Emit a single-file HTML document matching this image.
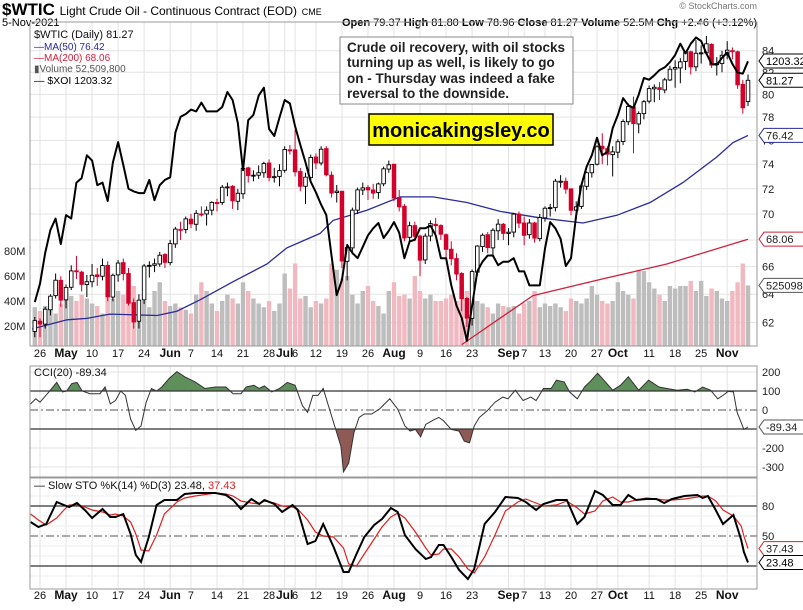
<!DOCTYPE html>
<html><head><meta charset="utf-8"><style>
html,body{margin:0;padding:0;background:#fff;}
svg{display:block;font-family:"Liberation Sans",sans-serif;}
</style></head><body>
<svg id="chart" width="803" height="610" viewBox="0 0 803 610">
<rect x="0" y="0" width="803" height="610" fill="#fff"/>
<g>
<text x="2" y="15" font-size="17" font-weight="bold">$WTIC <tspan font-size="12" font-weight="normal">Light Crude Oil - Continuous Contract (EOD)</tspan> <tspan font-size="9" font-weight="normal">CME</tspan></text>
<text x="2" y="26" font-size="11">5-Nov-2021</text>
<text x="757" y="9" font-size="9" fill="#777" text-anchor="end">© StockCharts.com</text>
<text x="757" y="26" font-size="11" text-anchor="end"><tspan font-weight="bold">Open</tspan> 79.37  <tspan font-weight="bold">High</tspan> 81.80  <tspan font-weight="bold">Low</tspan> 78.96  <tspan font-weight="bold">Close</tspan> 81.27  <tspan font-weight="bold">Volume</tspan> 52.5M  <tspan font-weight="bold">Chg</tspan> +2.46 (+3.12%)</text>
</g>
<g id="grid"></g>
<g id="main"></g>
<g id="cci"></g>
<g id="sto"></g>
<g id="frames"></g>
<g id="overlay"></g>
</svg>
<script>
// ---- data ----
const closes=[62.14,61.91,62.94,63.86,65.01,63.58,64.49,65.69,65.63,64.71,64.90,65.37,65.28,66.08,63.82,65.37,66.27,65.49,63.36,62.05,63.58,66.05,66.07,66.21,66.85,66.32,67.72,68.83,68.81,69.62,69.23,70.05,69.96,70.29,70.91,70.88,72.12,72.15,71.04,71.64,73.66,73.06,73.08,73.30,74.05,72.91,72.98,73.47,75.23,75.16,73.37,72.20,72.94,74.56,74.10,75.25,73.13,71.65,71.81,66.42,67.42,70.30,71.91,72.07,71.91,71.65,72.39,73.62,73.95,71.26,70.56,68.15,69.09,68.28,66.48,68.29,69.25,69.09,68.44,67.29,66.59,65.46,63.69,62.32,65.64,67.54,68.36,67.42,68.74,69.21,68.50,68.59,69.99,69.29,68.35,69.30,68.14,69.72,70.45,70.46,72.61,72.61,71.97,70.29,70.56,72.23,73.30,73.98,75.45,75.29,74.83,75.03,75.88,77.62,78.93,77.43,78.30,79.35,80.52,80.64,80.44,81.31,82.28,82.44,82.96,83.87,82.50,83.76,83.76,84.65,82.66,82.81,83.57,84.05,83.91,80.86,78.81,81.27];
const opens=[61.4,62.1,61.9,62.9,63.9,65.0,63.6,64.5,65.7,65.6,64.7,64.9,65.4,65.3,66.1,63.8,65.4,66.3,65.5,63.4,62.1,63.6,66.1,66.1,66.2,66.9,66.3,67.7,68.8,68.8,69.6,69.2,70.0,70.0,70.3,70.9,70.9,72.1,72.2,71.0,71.6,73.7,73.1,73.1,73.3,74.1,72.9,73.0,73.5,75.2,75.2,73.4,72.2,72.9,74.6,74.1,75.3,73.1,71.7,71.8,66.4,67.4,70.3,71.9,72.1,71.9,71.7,72.4,73.6,74.0,71.3,70.6,68.2,69.1,68.3,66.5,68.3,69.2,69.1,68.4,67.3,66.6,65.5,63.7,62.3,65.6,67.5,68.4,67.4,68.7,69.2,68.5,68.6,70.0,69.3,68.4,69.3,68.1,69.7,70.5,70.5,72.6,72.6,72.0,70.3,70.6,72.2,73.3,74.0,75.5,75.3,74.8,75.0,75.9,77.6,78.9,77.4,78.3,79.4,80.5,80.6,80.4,81.3,82.3,82.4,83.0,83.9,82.5,83.8,83.8,84.6,82.7,82.8,83.6,84.0,83.9,80.9,79.37];
const highs=[62.4,62.3,63.1,64.0,65.5,65.3,64.7,66.1,66.8,65.7,65.4,66.2,65.9,66.6,66.4,65.5,66.5,66.6,65.9,63.7,64.0,66.2,66.4,66.6,67.1,67.0,68.0,69.0,69.4,69.8,70.0,70.3,70.6,70.6,71.0,71.2,72.3,72.5,72.3,72.0,73.9,73.8,73.5,73.9,74.2,74.4,73.7,74.0,75.5,75.6,76.9,73.7,73.3,74.8,74.9,75.5,75.5,73.4,72.3,71.8,67.7,70.5,72.1,72.5,72.3,72.4,72.5,73.8,74.3,74.0,71.9,70.8,69.4,69.4,68.4,68.5,69.5,69.7,69.2,68.5,67.9,67.0,65.6,63.8,65.8,67.6,68.5,68.6,68.9,69.6,69.3,68.9,70.1,70.2,69.8,69.6,69.4,70.0,70.6,70.8,72.8,73.1,72.9,72.0,71.0,72.4,73.4,74.0,75.6,76.6,75.5,75.5,76.1,77.8,79.2,79.8,78.5,79.5,80.8,80.9,81.1,81.5,82.6,83.1,83.3,83.9,84.0,85.0,84.5,85.4,84.7,83.4,84.0,84.9,84.3,84.0,81.3,81.80];
const lows=[61.0,61.0,61.6,62.5,63.7,63.1,63.0,64.3,65.1,64.2,63.8,64.5,64.6,65.0,63.5,63.5,64.9,65.0,63.2,61.6,61.6,63.3,65.2,65.6,66.0,65.9,66.1,67.4,68.0,68.5,68.9,68.7,69.8,69.1,69.9,70.2,70.7,71.4,70.4,70.3,71.2,72.5,72.6,72.8,72.9,72.6,72.5,72.2,73.3,74.8,73.0,71.8,70.8,72.7,73.6,73.9,73.0,71.3,70.9,65.9,65.0,66.9,70.0,71.5,71.1,71.2,71.2,72.2,73.3,71.0,70.2,67.9,67.8,67.9,65.3,66.2,67.9,68.5,68.0,66.5,66.1,65.0,62.8,61.7,61.8,65.3,67.1,67.0,66.7,68.0,68.0,67.6,68.2,68.9,67.6,68.1,67.8,67.9,69.4,69.8,70.2,72.1,71.6,69.9,69.6,70.4,71.9,72.9,73.9,74.0,73.9,73.0,74.5,75.6,77.3,74.9,76.6,77.8,79.2,79.3,79.5,80.1,81.2,80.6,81.0,82.2,81.8,82.1,82.8,83.6,82.4,81.7,82.0,83.2,83.2,80.5,78.3,78.96];
const volumesM=[35,32,36,40,30,38,47,44,40,45,42,38,36,30,50,42,48,45,38,52,28,40,35,48,55,40,36,38,35,33,30,45,55,48,38,32,40,45,42,38,55,48,42,38,35,40,32,38,62,50,70,42,44,35,40,38,42,70,65,58,60,45,38,48,52,40,36,30,48,55,44,45,42,60,48,42,45,40,40,42,45,40,50,48,42,40,38,35,30,38,36,35,36,30,38,40,48,35,38,36,38,35,32,42,40,38,42,52,45,40,38,40,55,48,45,42,65,64,55,50,45,40,52,50,52,52,56,48,56,44,50,48,42,40,48,55,70,52.5];
const xoi=[929,950,985,1011,1024,995,1028,1024,1065,1070,1096,1090,1062,1065,1044,1088,1111,1085,1058,1055,1053,1053,1068,1045,1062,1068,1071,1122,1140,1143,1148,1146,1156,1146,1146,1146,1151,1168,1159,1133,1079,1136,1142,1164,1173,1126,1118,1139,1159,1155,1129,1108,1088,1066,1054,1040,1028,982,937,954,994,985,979,992,1005,1013,1019,1002,1010,1020,1008,979,998,1000,1013,1013,1016,1005,979,979,948,925,911,885,925,964,975,982,982,971,975,975,979,964,964,948,948,948,990,1020,1013,1001,970,979,1028,1062,1083,1096,1116,1096,1100,1127,1142,1161,1153,1150,1165,1184,1182,1187,1193,1196,1202,1210,1223,1212,1223,1230,1226,1212,1200,1199,1207,1213,1200,1190,1189,1203];
const ma50Idx=[-1.5,5.2,9,13.4,17.9,22.5,26.3,30.7,37.1,43.6,47.4,53.8,56.3,62.8,69.2,75.5,82,88.4,96,104.3,110.8,117.2,123.5,130,133.1,136];
const ma50Val=[61.57,62.2,62.3,62.6,62.55,62.5,62.8,63.6,64.9,66.2,67.4,68.5,69.5,70.3,71.35,71.35,70.9,70.2,69.7,69.3,69.9,70.9,72.5,74.6,75.8,76.42];
const ma200Idx=[81,94.7,108,120.4,136];
const ma200Val=[60.5,63.9,65.1,66.2,68.06];
const cciIdx=[-1.8,-0.8,0,1.7,3.2,4.3,5.1,6.1,7.1,8.1,9.6,11.5,12.5,13.5,14.5,15.5,16.4,17.4,18.4,19.4,20.4,21.4,22.4,23.4,24.8,26.3,27.8,29.8,31.7,33.7,35.7,37.1,38.6,39.6,41.1,42.1,43.1,44.5,46,47.5,49,50.4,51.4,52.4,53.4,54.4,55.4,56.8,57.8,58.3,59.3,60.3,61.3,62.3,63.7,65.2,67.2,68.7,70.1,71.1,72.1,73.1,74.1,75.6,76.6,77.5,79,80.5,81.5,82.5,83.4,84.4,85.9,87.4,88.9,89.9,91.3,92.8,94.3,95.3,96.7,98.2,99.2,100.7,101.7,103.2,104.6,105.6,107.1,108.6,110,111.5,113,115,116.9,118.9,120.4,122.4,124.3,125.8,127.3,128.8,130.2,131.2,132.2,133.2,133.9,135.2,136];
const cciVal=[32,59,41,95,145,95,100,139,145,100,86,86,121,32,50,100,77,-48,-107,-84,41,113,100,121,166,202,175,148,113,121,121,86,86,121,130,113,127,95,113,145,130,23,-12,77,77,113,23,-102,-191,-325,-280,-120,-39,-21,-21,5,59,5,-84,-111,-102,-141,-75,-52,-39,-57,-102,-111,-164,-173,-84,-39,-4,41,68,59,104,50,68,50,113,113,157,148,95,59,121,148,193,148,104,130,175,104,157,121,113,104,109,95,121,104,59,77,98,95,-12,-102,-89.34];
const stoIdx=[-1.8,-0.3,1.2,3.2,4.6,5.6,7.1,8.6,10,12,13.5,14.5,16,17.4,18.4,19.4,20.9,22.4,23.9,26.3,27.8,29.8,33.7,35.7,37.1,38.6,40.6,42.1,43.1,45,46.5,48.5,49.5,51.4,52.9,54.4,56.4,58.3,59.3,60.8,62.3,64.2,65.7,67.4,68.7,70.1,72.1,74.1,75.1,76.6,77.5,79,80.5,82.2,83.4,85.4,87.4,89.4,91.8,93.3,95.3,96.7,99.2,101.2,103.2,104.6,106.6,108.1,110,111.5,113,114.5,116.5,118.4,119.9,121.4,123.8,126.3,127.3,128.3,129.8,131.2,133.2,134.7,135.2,136];
const stoK=[64,59,62,84,81,79,83,76,68,77,69,69,72,52,31,24,49,81,86,86,92,93,93,91,86,77,87,82,86,82,74,81,76,42,45,62,39,14,14,32,49,61,67,78,74,51,37,27,29,41,41,29,16,7,17,62,74,89,88,84,76,82,86,86,62,69,95,91,81,81,91,86,87,87,83,87,90,91,88,90,76,62,71,46,34,23.48];
const stoD=[72,66,61,68,76,81,81,79,76,74,71,72,70,64,52,36,35,51,72,84,88,90,93,92,90,85,83,82,85,83,80,79,77,66,54,50,49,38,22,20,32,47,59,69,73,68,54,38,31,32,37,37,29,17,13,29,51,75,84,87,83,80,81,85,78,72,75,85,89,84,84,86,88,87,86,86,87,89,90,90,85,76,70,60,50,37.43];
const priceTicks=[84,82,80,78,76,74,72,70,68,66,64,62];
const volTicks=[80,60,40,20];
const cciTicks=[200,100,0,-100,-200,-300];
const dateIdx=[0,5,10,15,20,25,29,34,39,44,47,49,53,58,63,68,73,78,83,90,93,97,102,107,111,117,122,127,132];
const dateLbl=["26","May","10","17","24","Jun","7","14","21","28","Jul","6","12","19","26","Aug","9","16","23","Sep","7","13","20","27","Oct","11","18","25","Nov"];
const firstIdx=-1;

// ---- scales ----
const L=30,R=757;
const xOf=i=>40+i*5.206;
const yP=p=>50.7+895.6*Math.log(84/p);
const yV=m=>351-m*1.25;
const yX=v=>61+(1203.32-v)*0.879;
const yC=v=>410-v*0.19;
const yS=v=>586-v;
const NS="http://www.w3.org/2000/svg";
function mk(tag,attrs,parent,txt){const e=document.createElementNS(NS,tag);for(const k in attrs)e.setAttribute(k,attrs[k]);if(txt!==undefined)e.textContent=txt;parent.appendChild(e);return e;}
const grid=document.getElementById('grid'),main=document.getElementById('main'),cci=document.getElementById('cci'),sto=document.getElementById('sto'),frames=document.getElementById('frames'),ov=document.getElementById('overlay');
const svg=document.getElementById('chart');
const defs=mk('defs',{},svg);
const cp1=mk('clipPath',{id:'cpMain'},defs);mk('rect',{x:L,y:22,width:R-L,height:324},cp1);
const cpUp=mk('clipPath',{id:'cpUp'},defs);mk('rect',{x:L,y:366,width:R-L,height:yC(100)-366},cpUp);
const cpDn=mk('clipPath',{id:'cpDn'},defs);mk('rect',{x:L,y:yC(-100),width:R-L,height:477-yC(-100)},cpDn);
const panels=[[22,346],[366,477],[478,589]];

// vertical grid + date labels
dateIdx.forEach((d,k)=>{
  const x=xOf(d);
  panels.forEach(p=>{const g=mk('line',{x1:x,x2:x,y1:p[0],y2:p[1],stroke:'#e3e3e3','stroke-width':1},grid);
    
    });
  const bold=isNaN(+dateLbl[k]);
  [357,599].forEach(yy=>{const t=mk('text',{x:x,y:yy,'font-size':bold?12:11,'font-weight':bold?'bold':'normal','text-anchor':'middle',fill:'#111'},grid,dateLbl[k]);
    
    });
});
// price grid/ticks
priceTicks.forEach(p=>{const y=yP(p);
  const g=mk('line',{x1:L,x2:R,y1:y,y2:y,stroke:'#e3e3e3'},grid);
  
  
  const t=mk('text',{x:762,y:y+4,'font-size':11,fill:'#222'},grid,p);
  
  });
volTicks.forEach(v=>{const t=mk('text',{x:4,y:yV(v)+4,'font-size':11,fill:'#222'},grid,v+'M');
  
  });
cciTicks.forEach(v=>{const y=yC(v);
  if(Math.abs(v)!==100&&v!==0){const g=mk('line',{x1:L,x2:R,y1:y,y2:y,stroke:'#e3e3e3'},grid);
    
    }
  const t=mk('text',{x:762,y:y+4,'font-size':11,fill:'#222'},grid,v);
  
  });
[10,30,40,60,70,90].forEach(v=>{const y=yS(v);const g=mk('line',{x1:L,x2:R,y1:y,y2:y,stroke:'#ececec'},grid);
  
  });
[80,50].forEach(v=>{const t=mk('text',{x:762,y:yS(v)+4,'font-size':11,fill:'#222'},grid,v);
  
  });

// main panel content
const mg=mk('g',{'clip-path':'url(#cpMain)'},main);
volumesM.forEach((v,k)=>{const i=k+firstIdx;const up=k===0||closes[k]>=closes[k-1];
  const b=mk('rect',{x:xOf(i)-2.2,y:yV(v),width:4.4,height:351-yV(v),fill:up?'#bdbdbd':'#f2b8c0'},mg);
  
  });
function poly(idx,vals,yf,attrs,parent,name){const pts=idx.map((d,k)=>xOf(d).toFixed(1)+','+yf(vals[k]).toFixed(1)).join(' ');
  const e=mk('polyline',Object.assign({points:pts,fill:'none'},attrs),parent);
  
  return e;}
poly(ma200Idx,ma200Val,yP,{stroke:'#d0213d','stroke-width':1.3},mg,'ma200-line');
poly(ma50Idx,ma50Val,yP,{stroke:'#2a2a9a','stroke-width':1.3},mg,'ma50-line');
closes.forEach((c,k)=>{const i=k+firstIdx,x=xOf(i),o=opens[k];
  const red=k>0&&c<closes[k-1];const col=red?'#d4002a':'#000';
  const w=mk('line',{x1:x,x2:x,y1:yP(highs[k]),y2:yP(lows[k]),stroke:col,'stroke-width':1},mg);
  
  
  const top=yP(Math.max(o,c)),bot=yP(Math.min(o,c));
  const hollow=c>=o;
  const b=mk('rect',{x:x-1.8,y:top,width:3.6,height:Math.max(1,bot-top),fill:hollow?'#fff':col,stroke:col,'stroke-width':0.9},mg);
  
  });
poly(xoi.map((v,k)=>k+firstIdx),xoi,yX,{stroke:'#000','stroke-width':2,'stroke-linejoin':'round'},mg,'xoi-line');

// CCI
function areaPath(base){let d='M'+xOf(cciIdx[0])+','+yC(base);cciIdx.forEach((d0,k)=>{d+=' L'+xOf(d0).toFixed(1)+','+yC(cciVal[k]).toFixed(1);});d+=' L'+xOf(cciIdx[cciIdx.length-1])+','+yC(base)+' Z';return d;}
const up=mk('path',{d:areaPath(100),fill:'#5f8f5a','clip-path':'url(#cpUp)'},cci);


const dn=mk('path',{d:areaPath(-100),fill:'#8f5a55','clip-path':'url(#cpDn)'},cci);


[[100,'#333',''],[-100,'#333',''],[0,'#777','8,3,2,3']].forEach(a=>{const l=mk('line',{x1:L,x2:R,y1:yC(a[0]),y2:yC(a[0]),stroke:a[1],'stroke-width':1.2,'stroke-dasharray':a[2]},cci);
  
  });
poly(cciIdx,cciVal,yC,{stroke:'#333','stroke-width':1},cci,'cci-line');

// STO
[[80,'#333',''],[20,'#333',''],[50,'#777','8,3,2,3']].forEach(a=>{const l=mk('line',{x1:L,x2:R,y1:yS(a[0]),y2:yS(a[0]),stroke:a[1],'stroke-width':1.2,'stroke-dasharray':a[2]},sto);
  
  });
poly(stoIdx,stoD,yS,{stroke:'#e02020','stroke-width':1.2},sto,'sto-d-line');
poly(stoIdx,stoK,yS,{stroke:'#000','stroke-width':2},sto,'sto-k-line');

// frames
panels.forEach(p=>{const f=mk('rect',{x:L,y:p[0],width:R-L,height:p[1]-p[0],fill:'none',stroke:'#999'},frames);
  
  });

// value tags
function tag(y,txt,col,name){const g=mk('g',{},ov);
  
  
  mk('path',{d:`M${R+2},${y} L${R+7},${y-7} L${R+48},${y-7} L${R+48},${y+7} L${R+7},${y+7} Z`,fill:'#fff',stroke:col},g);
  mk('text',{x:R+9,y:y+4,'font-size':11,fill:col==='#000'?'#000':'#222'},g,txt);}
tag(yX(1203.32),'1203.32','#000','xoi-value-tag');
tag(yP(81.27),'81.27','#000','price-value-tag');
tag(yP(76.42),'76.42','#2a2a9a','ma50-value-tag');
tag(yP(68.06),'68.06','#d0213d','ma200-value-tag');
tag(yV(52.5),'52509800','#555','volume-value-tag');
tag(yC(-89.34),'-89.34','#555','cci-value-tag');
tag(yS(37.43),'37.43','#e02020','sto-d-value-tag');
tag(yS(23.48),'23.48','#000','sto-k-value-tag');
</script>
<svg width="0" height="0"></svg>
<div style="position:absolute;left:0;top:0;width:803px;height:610px;pointer-events:none;">
<svg width="803" height="610" style="position:absolute;left:0;top:0">
<g font-family="Liberation Sans, sans-serif">
<text x="34" y="38" font-size="11" fill="#111">$WTIC (Daily) 81.27</text>
<text x="34" y="50" font-size="10" fill="#2a2a9a">—MA(50) 76.42</text>
<text x="34" y="61" font-size="10" fill="#d0213d">—MA(200) 68.06</text>
<text x="34" y="72" font-size="10" fill="#555">▮Volume 52,509,800</text>
<text x="34" y="84" font-size="10.5" fill="#000">— $XOI 1203.32</text>
<text x="34" y="376" font-size="11" fill="#111">CCI(20) -89.34</text>
<text x="34" y="489" font-size="11" fill="#111">— Slow STO %K(14) %D(3) 23.48, <tspan fill="#e02020">37.43</tspan></text>
</g>
<g>
<rect x="340" y="37" width="233" height="67" fill="#fff" stroke="#888"/>
<text font-family="Liberation Sans, sans-serif" font-size="13.5" font-weight="bold" fill="#222">
<tspan x="347" y="52">Crude oil recovery, with oil stocks</tspan>
<tspan x="347" y="67">turning up as well, is likely to go</tspan>
<tspan x="347" y="83">on - Thursday was indeed a fake</tspan>
<tspan x="347" y="98">reversal to the downside.</tspan>
</text>
</g>
<g>
<rect x="369" y="114" width="184" height="31" fill="#ffff00" stroke="#000" stroke-width="1.5"/>
<text x="461" y="137" text-anchor="middle" font-family="Liberation Sans, sans-serif" font-size="20" font-weight="bold" fill="#000">monicakingsley.co</text>
</g>
</svg>
</div>
</body></html>
